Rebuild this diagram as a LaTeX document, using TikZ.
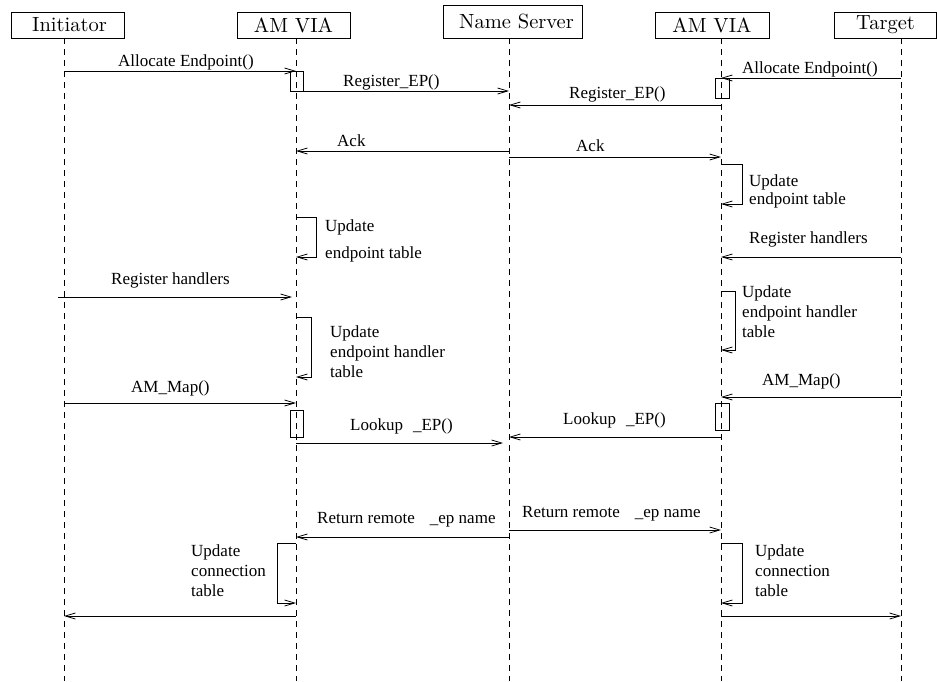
\documentclass[tikz,border=0pt]{standalone}
\usepackage{fontspec}
\newfontfamily\lblfont{Liberation Serif}
\newfontfamily\headfont{lmroman10-regular.otf}
\usetikzlibrary{arrows.meta,calc}
\begin{document}
\begin{tikzpicture}[x=1pt,y=-1pt,
  head/.style={draw, line width=0.8pt, inner sep=0pt, minimum height=26pt,
               font=\headfont\fontsize{20.5}{24}\selectfont},
  life/.style={line width=0.7pt, dash pattern=on 6pt off 5pt},
  msg/.style={line width=0.8pt, -{Straight Barb[length=10pt,width=6pt]}},
  act/.style={line width=0.8pt},
  lbl/.style={anchor=base west, inner sep=0pt, font=\lblfont\fontsize{17}{20}\selectfont}]
\useasboundingbox (0,0) rectangle (937,681);

% object headers
\node[head, minimum width=113pt] (hIni)  at (67.5,25)    {\hspace*{4pt}Initiator};
\node[head, minimum width=113pt] (hVia1) at (293.5,25)   {AM VIA};
\node[head, minimum width=139pt, minimum height=33pt] (hNS) at (512.5,21.5) {\hspace*{8pt}Name Server};
\node[head, minimum width=114pt] (hVia2) at (712,25)     {AM VIA};
\node[head, minimum width=102pt] (hTgt)  at (885.5,25)   {Target};

% lifelines
\coordinate (ini)  at (64,38);
\coordinate (via1) at (296,38);
\coordinate (ns)   at (509,38);
\coordinate (via2) at (721,38);
\coordinate (tgt)  at (901,38);
\foreach \c in {ini,via1,ns,via2,tgt}
  \draw[life] (\c) -- (\c |- 0,681);

% endpoint allocation and registration
\draw[msg] (ini |- 0,71) -- (via1 |- 0,71);
\node[lbl] (l1) at (118,66) {Allocate Endpoint()};
\draw[act] ($(via1 |- 0,71)+(-6,0)$) rectangle ($(via1 |- 0,91)+(7,0)$);
\draw[msg] (via1 |- 0,91) -- (ns |- 0,91);
\node[lbl] (l2) at (343,86) {Register\_EP()};

\draw[msg] (tgt |- 0,78) -- (via2 |- 0,78);
\node[lbl] (l3) at (742,73) {Allocate Endpoint()};
\draw[act] ($(via2 |- 0,78)+(-6,0)$) rectangle ($(via2 |- 0,98)+(8,0)$);
\draw[msg] (via2 |- 0,105) -- (ns |- 0,105);
\node[lbl] (l4) at (569,98) {Register\_EP()};

\draw[msg] (ns |- 0,151) -- (via1 |- 0,151);
\node[lbl] (l5) at (337,146) {Ack};
\draw[msg] (ns |- 0,157) -- (via2 |- 0,157);
\node[lbl] (l6) at (576,151) {Ack};

% endpoint table updates
\draw[msg] (via2 |- 0,164) -- ++(21,0) |- (via2 |- 0,204);
\node[lbl] (l7a) at (749,186) {Update};
\node[lbl] (l7b) at (749,204) {endpoint table};

\draw[msg] (via1 |- 0,217) -- ++(20,0) |- (via1 |- 0,257);
\node[lbl] (l8a) at (325,231) {Update};
\node[lbl] (l8b) at (325,258) {endpoint table};

% handler registration
\draw[msg] (tgt |- 0,257) -- (via2 |- 0,257);
\node[lbl] (l9) at (749,243) {Register handlers};
\draw[msg] ($(ini |- 0,297)+(-6,0)$) -- ($(via1 |- 0,297)+(-4,0)$);
\node[lbl] (l10) at (111,284) {Register handlers};

\draw[msg] (via1 |- 0,317) -- ++(15,0) |- (via1 |- 0,377);
\node[lbl] (l11a) at (330,337) {Update};
\node[lbl] (l11b) at (330,357) {endpoint handler};
\node[lbl] (l11c) at (330,377) {table};

\draw[msg] (via2 |- 0,291) -- ++(14,0) |- (via2 |- 0,350);
\node[lbl] (l12a) at (742,297) {Update};
\node[lbl] (l12b) at (742,317) {endpoint handler};
\node[lbl] (l12c) at (742,337) {table};

% mapping and lookup
\draw[msg] (ini |- 0,403) -- (via1 |- 0,403);
\node[lbl] (l13) at (131,392) {AM\_Map()};
\draw[msg] (tgt |- 0,397) -- (via2 |- 0,397);
\node[lbl] (l14) at (762,385) {AM\_Map()};

\draw[act] ($(via1 |- 0,410)+(-6,0)$) rectangle ($(via1 |- 0,437)+(7,0)$);
\draw[msg] (via1 |- 0,443) -- ($(ns |- 0,443)+(-6,0)$);
\node[lbl] (l15) at (350,430) {Lookup\hspace{10pt}\_EP()};
\draw[act] ($(via2 |- 0,403)+(-6,0)$) rectangle ($(via2 |- 0,430)+(8,0)$);
\draw[msg] (via2 |- 0,437) -- (ns |- 0,437);
\node[lbl] (l16) at (563,424) {Lookup\hspace{10pt}\_EP()};

% name resolution replies
\draw[msg] (ns |- 0,537) -- (via1 |- 0,537);
\node[lbl] (l17) at (317,523) {Return remote\hspace{15pt}\_ep name};
\draw[msg] (ns |- 0,530) -- (via2 |- 0,530);
\node[lbl] (l18) at (522,517) {Return remote\hspace{15pt}\_ep name};

% connection table updates
\draw[msg] (via1 |- 0,543) -- ++(-19,0) |- (via1 |- 0,603);
\node[lbl] (l19a) at (191,556) {Update};
\node[lbl] (l19b) at (191,576) {connection};
\node[lbl] (l19c) at (191,596) {table};
\draw[msg] (via1 |- 0,616) -- (ini |- 0,616);

\draw[msg] (via2 |- 0,543) -- ++(21,0) |- (via2 |- 0,603);
\node[lbl] (l20a) at (755,556) {Update};
\node[lbl] (l20b) at (755,576) {connection};
\node[lbl] (l20c) at (755,596) {table};
\draw[msg] (via2 |- 0,616) -- (tgt |- 0,616);
\end{tikzpicture}
\end{document}
